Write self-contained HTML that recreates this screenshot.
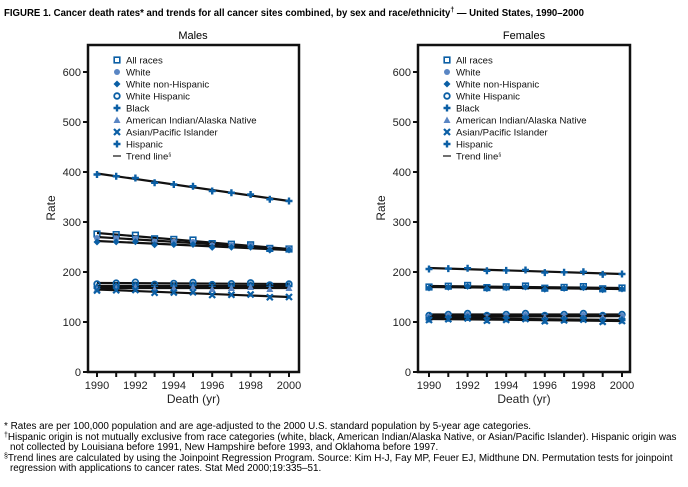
<!DOCTYPE html>
<html><head><meta charset="utf-8"><style>
body{margin:0;background:#fff;width:688px;height:482px;overflow:hidden;font-family:"Liberation Sans",sans-serif}
svg text{font-family:"Liberation Sans",sans-serif}
</style></head><body>
<svg id="s" width="688" height="482" xmlns="http://www.w3.org/2000/svg">
<text x="4" y="16" font-size="9.7" font-weight="bold" fill="#000" textLength="580" lengthAdjust="spacingAndGlyphs">FIGURE 1. Cancer death rates* and trends for all cancer sites combined, by sex and race/ethnicity<tspan dy="-4" font-size="7">†</tspan><tspan dy="4"> — United States, 1990–2000</tspan></text>
<text x="193" y="39" font-size="11" text-anchor="middle">Males</text>
<text x="524" y="39" font-size="11" text-anchor="middle">Females</text>
<g id="g"></g>
<g font-size="9.9" fill="#000">
<text x="4" y="429">* Rates are per 100,000 population and are age-adjusted to the 2000 U.S. standard population by 5-year age categories.</text>
<text x="4" y="440"><tspan font-size="7" dy="-3">†</tspan><tspan dy="3">Hispanic origin is not mutually exclusive from race categories (white, black, American Indian/Alaska Native, or Asian/Pacific Islander). Hispanic origin was</tspan></text>
<text x="10" y="450">not collected by Louisiana before 1991, New Hampshire before 1993, and Oklahoma before 1997.</text>
<text x="4" y="461"><tspan font-size="7" dy="-3">§</tspan><tspan dy="3">Trend lines are calculated by using the Joinpoint Regression Program. Source: Kim H-J, Fay MP, Feuer EJ, Midthune DN. Permutation tests for joinpoint</tspan></text>
<text x="10" y="471">regression with applications to cancer rates. Stat Med 2000;19:335–51.</text>
</g>
</svg>
<script>
const g=document.getElementById('g');let h='';
const C='#0b5fa5',C2='#5a86c4';
function mk(t,cx,cy,c){
 if(t==0)return `<rect x="${cx-2.8}" y="${cy-2.8}" width="5.6" height="5.6" fill="none" stroke="${c}" stroke-width="1.6"/>`;
 if(t==1)return `<circle cx="${cx}" cy="${cy}" r="3" fill="${c}"/>`;
 if(t==2)return `<polygon points="${cx},${cy-3.5} ${cx+3.5},${cy} ${cx},${cy+3.5} ${cx-3.5},${cy}" fill="${c}"/>`;
 if(t==3)return `<circle cx="${cx}" cy="${cy}" r="2.8" fill="none" stroke="${c}" stroke-width="1.8"/>`;
 if(t==5)return `<polygon points="${cx},${cy-3.5} ${cx+3.5},${cy+3} ${cx-3.5},${cy+3}" fill="${c}"/>`;
 if(t==6)return `<path d="M${cx-3},${cy-3}L${cx+3},${cy+3}M${cx+3},${cy-3}L${cx-3},${cy+3}" stroke="${c}" stroke-width="2.2"/>`;
 return `<path d="M${cx-3.5},${cy}H${cx+3.5}M${cx},${cy-3.5}V${cy+3.5}" stroke="${c}" stroke-width="2.4"/>`;
}
function panel(L,R,x0,x1,data){
 const y=v=>372-v*0.5, x=i=>x0+i*(x1-x0)/10;
 h+=`<rect x="${L}" y="45" width="${R-L}" height="327" fill="none" stroke="#111" stroke-width="2.5"/>`;
 for(let v=0;v<=600;v+=100){h+=`<line x1="${L-5}" x2="${L}" y1="${y(v)}" y2="${y(v)}" stroke="#111" stroke-width="2"/><text x="${L-7}" y="${y(v)+4}" font-size="11" fill="#222" text-anchor="end">${v}</text>`;}
 for(let i=0;i<=10;i++){h+=`<line x1="${x(i)}" x2="${x(i)}" y1="372" y2="377" stroke="#111" stroke-width="2"/>`;if(i%2==0)h+=`<text x="${x(i)}" y="389" font-size="11" fill="#222" text-anchor="middle">${1990+i}</text>`;}
 h+=`<text x="${(L+R)/2}" y="403" font-size="12" fill="#222" text-anchor="middle">Death (yr)</text>`;
 h+=`<text transform="translate(${L-33},208) rotate(-90)" font-size="12" fill="#222" text-anchor="middle">Rate</text>`;
 data.forEach(([a,b,t])=>{h+=`<line x1="${x(0)}" y1="${y(a)}" x2="${x(10)}" y2="${y(b)}" stroke="#111" stroke-width="2.2"/>`;
  for(let i=0;i<=10;i++){const v=a+(b-a)*i/10+((i*7)%3-1)*2;h+=mk(t,x(i),y(v),t==1||t==5?C2:C);}});
 const lx=L+29;const items=['All races','White','White non-Hispanic','White Hispanic','Black','American Indian/Alaska Native','Asian/Pacific Islander','Hispanic'];
 items.forEach((t,k)=>{const yy=60+k*12;h+=mk(k,lx,yy,k==1||k==5?C2:C)+`<text x="${lx+9}" y="${yy+3.5}" font-size="9.6" fill="#111">${t}</text>`;});
 h+=`<line x1="${lx-4}" x2="${lx+4}" y1="156" y2="156" stroke="#111" stroke-width="1.2"/><text x="${lx+9}" y="159.5" font-size="9.6" fill="#111">Trend line<tspan font-size="5" dy="-3">§</tspan></text>`;
}
panel(88,299,97,289,[[397,342,4],[278,246,0],[270,246,1],[262,244,2],[178,176,3],[172,172,7],[168,168,5],[165,150,6]]);
panel(418,630,429,622,[[208,196,4],[172,168,0],[170,166,2],[115,115,3],[112,112,1],[110,112,5],[108,104,7],[106,102,6]]);
g.innerHTML=h;
</script>
</body></html>
